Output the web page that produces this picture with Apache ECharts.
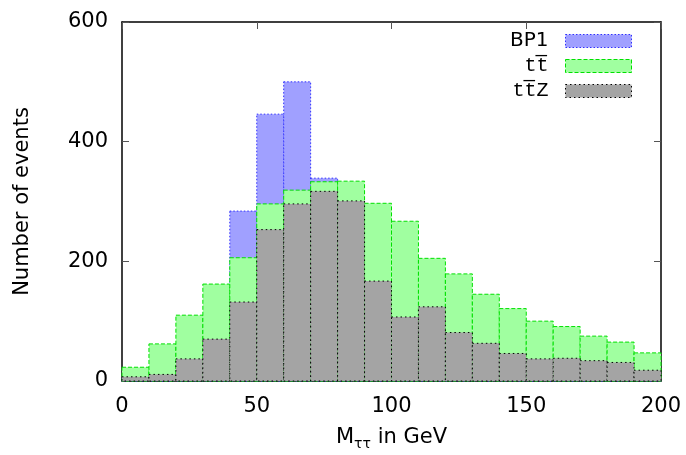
<!DOCTYPE html>
<html><head><meta charset="utf-8">
<script src="https://cdn.jsdelivr.net/npm/echarts@6/dist/echarts.min.js"></script>
<style>html,body{margin:0;padding:0;background:#fff}#c{width:686px;height:455px}</style>
</head><body><div id="c"></div>
<script>
const binEdges = [0,10,20,30,40,50,60,70,80,90,100,110,120,130,140,150,160,170,180,190,200];
const seriesNames = ['BP1', 'tt\u0305', 'tt\u0305Z'];
const bp1   = [5, 10, 20, 40, 284, 446, 500, 339, 150, 90, 60, 40, 30, 20, 15, 10, 8, 6, 5, 3];
const ttbar = [23, 62, 110, 162, 206, 296, 319, 333, 334, 297, 267, 205, 179, 145, 121, 100, 91, 75, 65, 47];
const ttz   = [7, 11, 37, 70, 132, 253, 296, 317, 301, 167, 107, 124, 81, 63, 46, 37, 38, 34, 31, 18];
const xTicks = [0, 50, 100, 150, 200];
const yTicks = [0, 200, 400, 600];

const styles = [
  {fill: '#a0a0ff', stroke: '#3030ff', dash: [1.5, 2]},
  {fill: '#a0ffa0', stroke: '#00e000', dash: [4, 2]},
  {fill: '#a4a4a4', stroke: '#000000', dash: [1.5, 3]}
];

function toData(vals) {
  return vals.map((v, i) => [binEdges[i], binEdges[i + 1], v]);
}
function makeRender(st) {
  return function (params, api) {
    const p0 = api.coord([api.value(0), api.value(2)]);
    const p1 = api.coord([api.value(1), 0]);
    return {
      type: 'rect',
      shape: {x: p0[0], y: p0[1], width: p1[0] - p0[0], height: p1[1] - p0[1]},
      style: {fill: st.fill, stroke: st.stroke, lineWidth: 1, lineDash: st.dash}
    };
  };
}
const allVals = [bp1, ttbar, ttz];
const series = allVals.map((vals, k) => ({
  name: seriesNames[k],
  type: 'custom',
  renderItem: makeRender(styles[k]),
  encode: {x: [0, 1], y: 2},
  data: toData(vals),
  itemStyle: {color: styles[k].fill, borderColor: styles[k].stroke, borderWidth: 1, borderType: styles[k].dash},
  silent: true,
  animation: false
}));

const SANS = 'DejaVu Sans, Liberation Sans, sans-serif';
const axisLine = {show: true, onZero: false, lineStyle: {color: '#000', width: 1.5}};
const tickStyle = {show: true, inside: true, length: 7, lineStyle: {color: '#555', width: 1}};
const labelFont = {fontFamily: SANS, fontSize: 21, color: '#000'};
const xMin = xTicks[0], xMax = xTicks[xTicks.length - 1], xInt = xTicks[1] - xTicks[0];
const yMin = yTicks[0], yMax = yTicks[yTicks.length - 1], yInt = yTicks[1] - yTicks[0];

const chart = echarts.init(document.getElementById('c'));
chart.setOption({
  animation: false,
  backgroundColor: '#fff',
  grid: {left: 122, right: 25, top: 22, bottom: 74, containLabel: false, outerBoundsMode: 'none'},
  xAxis: [
    {type: 'value', min: xMin, max: xMax, interval: xInt, position: 'bottom',
     axisLine: axisLine, axisTick: tickStyle, splitLine: {show: false},
     axisLabel: Object.assign({margin: 15}, labelFont),
     name: '{a|M}{s|ττ}{a| in GeV}', nameLocation: 'middle', nameGap: 46,
     nameTextStyle: {rich: {
       a: {fontFamily: SANS, fontSize: 21, color: '#000', lineHeight: 24, verticalAlign: 'top'},
       s: {fontFamily: SANS, fontSize: 14, color: '#000', lineHeight: 14, verticalAlign: 'bottom'}
     }}},
    {type: 'value', min: xMin, max: xMax, interval: xInt, position: 'top',
     axisLine: axisLine, axisTick: tickStyle, splitLine: {show: false}, axisLabel: {show: false}}
  ],
  yAxis: [
    {type: 'value', min: yMin, max: yMax, interval: yInt, position: 'left',
     axisLine: axisLine, axisTick: tickStyle, splitLine: {show: false},
     axisLabel: Object.assign({margin: 14}, labelFont),
     name: 'Number of events', nameLocation: 'middle', nameGap: 89, nameRotate: 90,
     nameTextStyle: {fontFamily: SANS, fontSize: 21, color: '#000'}},
    {type: 'value', min: yMin, max: yMax, interval: yInt, position: 'right',
     axisLine: axisLine, axisTick: tickStyle, splitLine: {show: false}, axisLabel: {show: false}}
  ],
  legend: {
    orient: 'vertical', right: 54, top: 31, align: 'right', padding: 0,
    itemWidth: 66, itemHeight: 13, itemGap: 5, selectedMode: false,
    data: seriesNames.map((n, k) => ({name: n, icon: 'rect',
      itemStyle: {color: styles[k].fill, borderColor: styles[k].stroke, borderWidth: 1, borderType: styles[k].dash}})),
    formatter: function (name) { return name === 'BP1' ? '{s|' + name + '}' : '{m|' + name + '}'; },
    textStyle: {rich: {
      s: {fontFamily: SANS, fontSize: 20, color: '#000', lineHeight: 20, padding: [0, 12, 0, 0]},
      m: {fontFamily: 'Liberation Mono, monospace', fontSize: 20, color: '#000', lineHeight: 20, padding: [0, 12, 0, 0]}
    }}
  },
  series: series
});
</script></body></html>
